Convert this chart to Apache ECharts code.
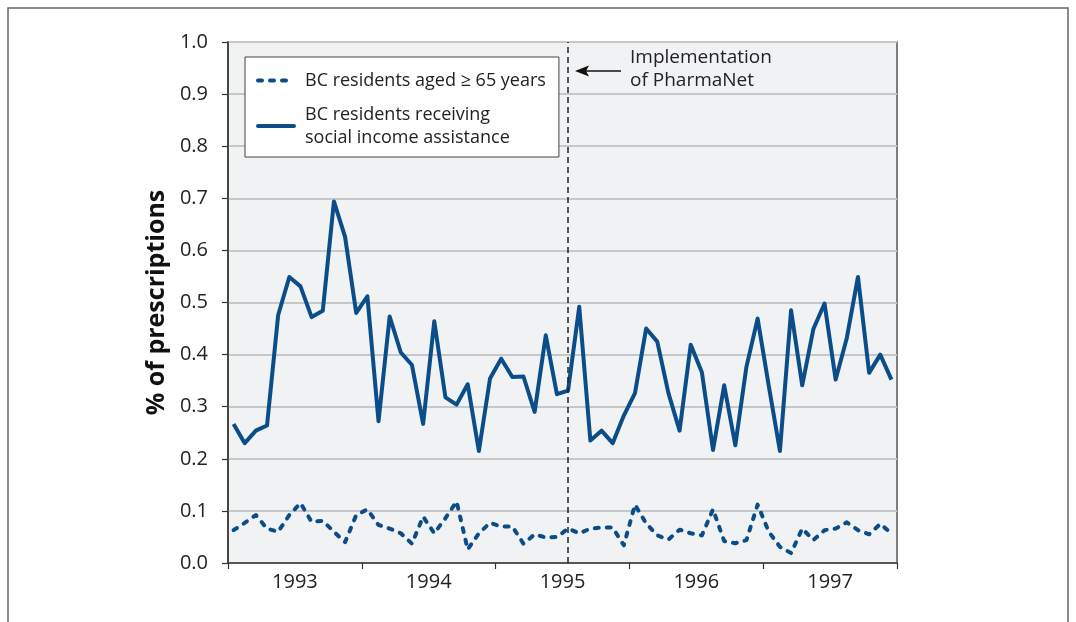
<!DOCTYPE html>
<html>
<head>
<meta charset="utf-8">
<script src="https://cdn.jsdelivr.net/npm/echarts@6/dist/echarts.min.js"></script>
<style>
  html, body { margin: 0; padding: 0; background: #fff; }
  #chart { width: 1076px; height: 622px; }
</style>
</head>
<body>
<div id="chart"></div>
<script>
// monthly values, Jan 1993 .. Dec 1997
const years = ['1993', '1994', '1995', '1996', '1997']
const seniors = [
  0.063, 0.077, 0.092, 0.066, 0.060, 0.092, 0.115, 0.079, 0.081, 0.060,
  0.040, 0.092, 0.103, 0.073, 0.066, 0.057, 0.037, 0.089, 0.057, 0.086,
  0.118, 0.026, 0.057, 0.077, 0.070, 0.070, 0.037, 0.055, 0.049, 0.050,
  0.066, 0.057, 0.066, 0.068, 0.068, 0.034, 0.112, 0.076, 0.053, 0.045,
  0.064, 0.057, 0.053, 0.103, 0.042, 0.038, 0.044, 0.112, 0.060, 0.031,
  0.019, 0.066, 0.044, 0.063, 0.066, 0.078, 0.063, 0.055, 0.075, 0.057
]
const assistance = [
  0.267, 0.230, 0.254, 0.264, 0.476, 0.549, 0.531, 0.472, 0.484, 0.694,
  0.626, 0.480, 0.512, 0.272, 0.473, 0.404, 0.380, 0.267, 0.464, 0.318,
  0.304, 0.343, 0.215, 0.354, 0.392, 0.357, 0.358, 0.290, 0.437, 0.324,
  0.331, 0.492, 0.235, 0.254, 0.230, 0.283, 0.326, 0.450, 0.425, 0.326,
  0.254, 0.419, 0.366, 0.217, 0.341, 0.226, 0.377, 0.469, 0.340, 0.215,
  0.485, 0.341, 0.449, 0.498, 0.352, 0.432, 0.549, 0.365, 0.400, 0.352
]
const pharmaNetMonth = 30 // July 1995 (month index from Jan 1993)

const blue = '#0b4d89'
const font = 'Open Sans'

// put each point at the middle of its month
const toPoints = arr => arr.map((v, i) => [i + 0.5, v])

const chart = echarts.init(document.getElementById('chart'))

chart.setOption({
  animation: false,
  textStyle: { fontFamily: font },
  grid: {
    left: 228, right: 179, top: 42, bottom: 59,
    show: true,
    backgroundColor: '#f1f2f4',
    borderColor: '#555',
    borderWidth: 1.5
  },
  legend: {
    orient: 'vertical',
    left: 245, top: 57,
    padding: [12, 13, 8, 11],
    backgroundColor: '#fff',
    borderColor: '#444',
    borderWidth: 1,
    itemWidth: 36,
    itemHeight: 14,
    itemGap: 11,
    itemStyle: { opacity: 0 },
    lineStyle: { width: 4, cap: 'round' },
    textStyle: { fontSize: 18, color: '#222', fontFamily: font, lineHeight: 23, padding: [0, 0, 0, 6] },
    data: ['BC residents aged ≥ 65 years', 'BC residents receiving\nsocial income assistance']
  },
  xAxis: [
    {
      type: 'value', min: 0, max: 60, interval: 12,
      axisLine: { show: true, onZero: false, lineStyle: { color: '#333', width: 1.5 } },
      axisTick: { show: true, length: 6, lineStyle: { color: '#333', width: 1.2 } },
      axisLabel: { show: false },
      splitLine: { show: false }
    },
    {
      type: 'value', min: 0, max: 60, interval: 6,
      position: 'bottom',
      axisLine: { show: false },
      axisTick: { show: false },
      splitLine: { show: false },
      axisLabel: {
        margin: 9,
        fontSize: 20, color: '#222', fontFamily: font,
        formatter: v => (v % 12 === 6 ? years[(v - 6) / 12] : '')
      }
    }
  ],
  yAxis: {
    type: 'value', min: 0, max: 1, interval: 0.1,
    name: '% of prescriptions',
    nameLocation: 'middle',
    nameGap: 58,
    nameTextStyle: { fontSize: 25, fontWeight: 'bold', color: '#111', fontFamily: font },
    axisLine: { show: true, lineStyle: { color: '#333', width: 1.5 } },
    axisTick: { show: true, length: 6, lineStyle: { color: '#333', width: 1.2 } },
    axisLabel: {
      margin: 20, fontSize: 20, color: '#222', fontFamily: font,
      formatter: v => v.toFixed(1)
    },
    splitLine: { show: true, lineStyle: { color: '#c6c7c9', width: 2 } }
  },
  series: [
    {
      name: 'BC residents aged ≥ 65 years',
      type: 'line',
      data: toPoints(seniors),
      symbol: 'none',
      color: blue,
      lineStyle: { color: blue, width: 4, type: [4, 8], cap: 'round', join: 'round' }
    },
    {
      name: 'BC residents receiving\nsocial income assistance',
      type: 'line',
      data: toPoints(assistance),
      symbol: 'none',
      color: blue,
      lineStyle: { color: blue, width: 4, join: 'round' },
      markLine: {
        silent: true,
        symbol: 'none',
        label: { show: false },
        lineStyle: { color: '#222', type: [6, 4], width: 1.5 },
        data: [{ xAxis: pharmaNetMonth + 0.5 }]
      }
    }
  ],
  graphic: [
    {
      type: 'rect',
      shape: { x: 8, y: 8, width: 1060, height: 700 },
      style: { fill: 'none', stroke: '#666', lineWidth: 1.5 },
      silent: true
    },
    {
      type: 'text',
      left: 630, top: 46,
      style: {
        text: 'Implementation\nof PharmaNet',
        font: '19px "Open Sans"',
        fill: '#222',
        lineHeight: 23
      }
    },
    {
      type: 'line',
      shape: { x1: 577, y1: 71, x2: 621, y2: 71 },
      style: { stroke: '#111', lineWidth: 1.5 }
    },
    {
      type: 'polygon',
      shape: { points: [[575, 71], [589, 65.5], [586, 71], [589, 76.5]] },
      style: { fill: '#111' }
    }
  ]
})
</script>
</body>
</html>
